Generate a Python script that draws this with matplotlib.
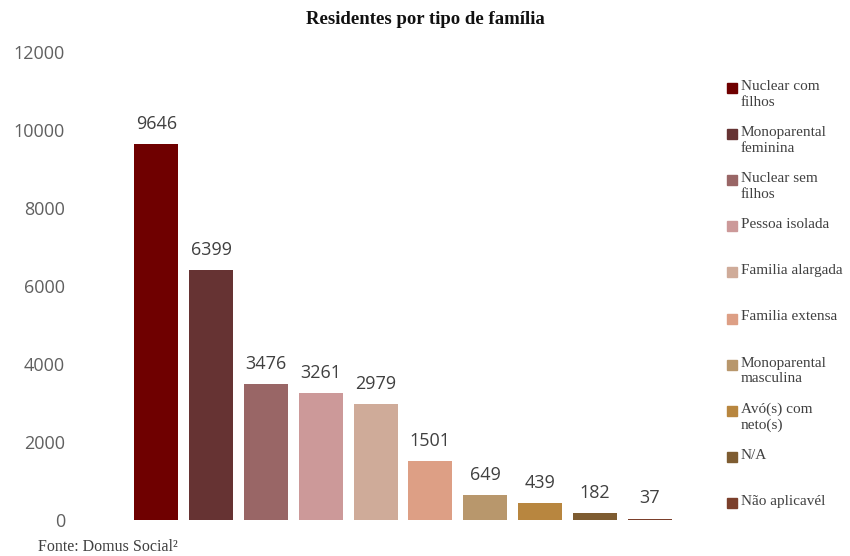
import matplotlib
matplotlib.use("Agg")
from matplotlib import pyplot as plt
from matplotlib.patches import Rectangle
import numpy as np

# data
categories = ["Nuclear com\nfilhos", "Monoparental\nfeminina", "Nuclear sem\nfilhos",
              "Pessoa isolada", "Familia alargada", "Familia extensa",
              "Monoparental\nmasculina", "Avó(s) com\nneto(s)", "N/A", "Não aplicavél"]
values = [9646, 6399, 3476, 3261, 2979, 1501, 649, 439, 182, 37]
colors = ["#6f0000", "#663333", "#996666", "#cc9999", "#cfab99",
          "#dd9f85", "#b8976c", "#b8863f", "#7e5c31", "#7b3f2b"]
yticks = [0, 2000, 4000, 6000, 8000, 10000, 12000]

fig = plt.figure(figsize=(8.5, 5.56), dpi=100)
ax = fig.add_axes([129 / 850, 36 / 556, 548 / 850, 468 / 556])

pos = np.arange(len(values))
ax.bar(pos, values, width=0.8, color=colors)
for p, v in zip(pos, values):
    ax.annotate(str(v), (p, v), xytext=(0, 8), textcoords="offset points",
                ha="center", va="bottom", fontsize=13, color="#404040",
                family="Open Sans")

ax.set_xlim(-0.5, len(values) - 0.5)
ax.set_ylim(0, 12000)
ax.set_yticks(yticks)
ax.set_yticklabels([str(t) for t in yticks], family="Open Sans", fontsize=13, color="#606060")
ax.tick_params(axis="y", length=0, pad=46)
ax.set_xticks([])
for s in ax.spines.values():
    s.set_visible(False)

fig.text(0.5, 1 - 20 / 556, "Residentes por tipo de família", ha="center", va="center",
         family="Liberation Serif", fontweight="bold", fontsize=13.5, color="#111111")

# legend drawn by hand so the swatch sits on the first text line
for i, (lab, c) in enumerate(zip(categories, colors)):
    yc = 88 + 46.1 * i
    fig.add_artist(Rectangle((727 / 850, 1 - (yc + 5) / 556), 10 / 850, 10 / 556,
                             transform=fig.transFigure, color=c))
    fig.text(741 / 850, 1 - (yc - 8) / 556, lab, ha="left", va="top",
             family="Liberation Serif", fontsize=11, color="#404040", linespacing=1.25)

fig.text(38 / 850, 1 - 547 / 556, "Fonte: Domus Social²", ha="left", va="center",
         family="Liberation Serif", fontsize=11.5, color="#404040")

plt.savefig("out.png", dpi=100)
